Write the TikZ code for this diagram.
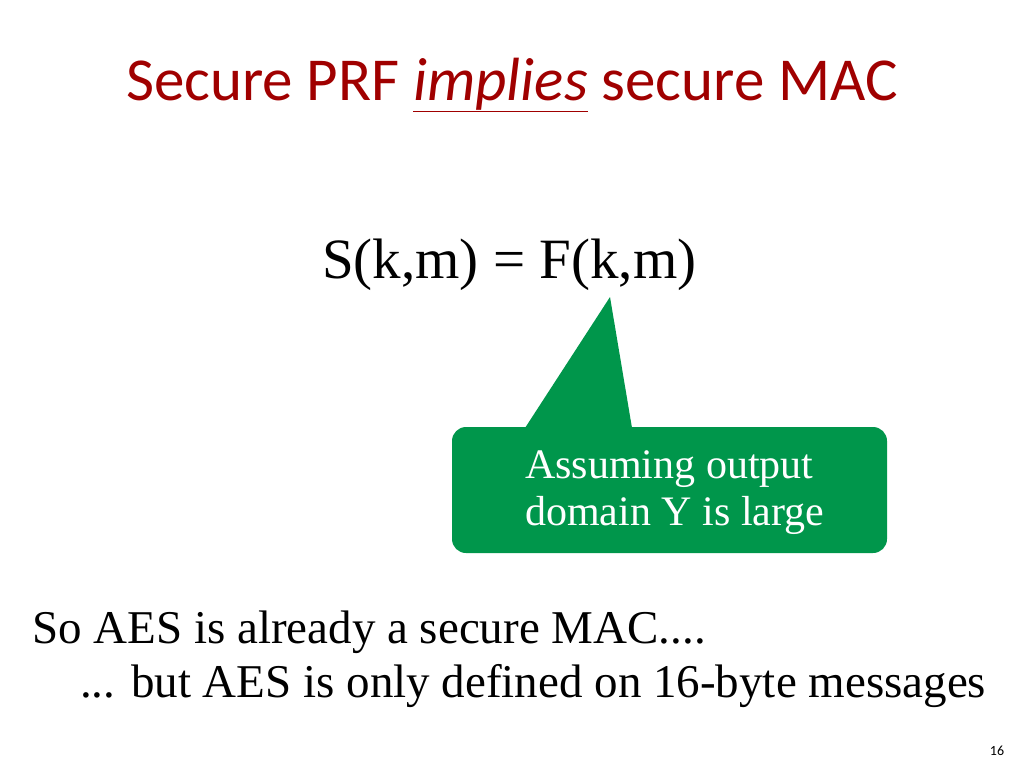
\documentclass[tikz,border=0pt]{standalone}
\usepackage{fontspec}
\setmainfont{Liberation Serif}
\newfontfamily\titlefont{Carlito}
\definecolor{titlered}{RGB}{160,0,0}
\definecolor{callgreen}{RGB}{0,150,75}
\begin{document}
\begin{tikzpicture}[x=1pt,y=-1pt,
  body/.style={inner sep=0pt,font=\fontsize{47}{54}\selectfont,anchor=base west}]
\useasboundingbox (0,0) rectangle (1024,768);
\node[inner sep=0pt,anchor=base,text=titlered,font=\titlefont\fontsize{61}{70}\selectfont] (title) at (512,100) {Secure PRF \underline{\textit{implies}} secure MAC};
\node[body,font=\fontsize{57}{64}\selectfont] (eq) at (322,278) {S(k,m) = F(k,m)};
\fill[callgreen,rounded corners=14pt] (452,427) rectangle (887,553);
\fill[callgreen] (525,428) -- (610,297) -- (632,428) -- cycle;
\node[inner sep=0pt,anchor=north west,align=left,text=white,font=\fontsize{42}{47}\selectfont] (call) at (525,450) {Assuming output\\domain Y is large};
\node[body] (l1) at (32,643) {So AES is already a secure MAC....};
\node[body] (l2) at (80,697) {... but AES is only defined on 16-byte messages};
\node[inner sep=0pt,anchor=base,font=\titlefont\fontsize{14}{16}\selectfont] (pg) at (997,755) {16};
\end{tikzpicture}
\end{document}
